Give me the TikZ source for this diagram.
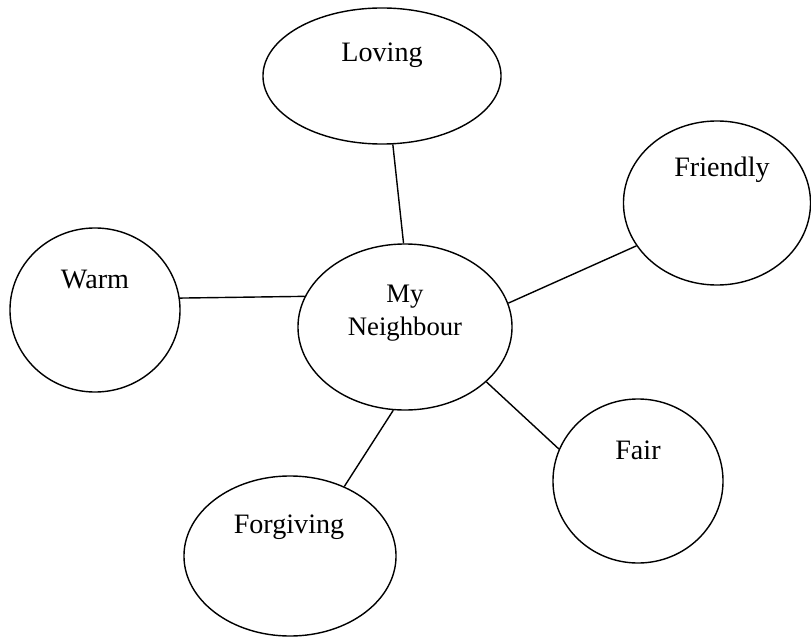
\documentclass[tikz,border=0pt]{standalone}
\usepackage{fontspec}
\setmainfont{Liberation Serif}
\usepackage{tikz}
\usetikzlibrary{shapes.geometric,positioning}

\begin{document}
\begin{tikzpicture}[x=0.025cm, y=-0.025cm,
  bubble/.style={draw, ellipse, line width=1pt, inner sep=0pt},
  word/.style={font=\fontsize{20}{24}\selectfont, inner sep=0pt},
  link/.style={line width=1pt}]
\useasboundingbox (0,0) rectangle (811,637);

% Ellipses
\node[bubble, minimum width=5.95cm, minimum height=3.4cm] (loving) at (382,76) {};
\node[bubble, minimum width=4.675cm, minimum height=4.1cm] (friendly) at (717,203) {};
\node[bubble, minimum width=4.25cm, minimum height=4.1cm] (warm) at (95,310) {};
\node[bubble, minimum width=5.35cm, minimum height=4.15cm] (nb) at (405,327) {};
\node[bubble, minimum width=4.25cm, minimum height=4.1cm] (fair) at (638,481) {};
\node[bubble, minimum width=5.3cm, minimum height=4.0cm] (forgiving) at (290,556) {};

% Labels
\node[word] (lovingtxt) at (382,55) {Loving};
\node[word] (friendlytxt) at (722,170) {Friendly};
\node[word] (warmtxt) at (95,280) {Warm};
\node[word, align=center, font=\fontsize{19}{23.5}\selectfont] (nbtxt) at (405,313) {My\\Neighbour};
\node[word] (fairtxt) at (638,450) {Fair};
\node[word] (forgivingtxt) at (289,527) {Forgiving};

% Connectors
\draw[link] (loving.-81) -- (nb.91);
\draw[link] (nb.13) -- (friendly.208);
\draw[link] (warm.8) -- (nb.163);
\draw[link] (nb.-34) -- (fair.158);
\draw[link] (nb.-98) -- (forgiving.52);
\end{tikzpicture}
\end{document}
